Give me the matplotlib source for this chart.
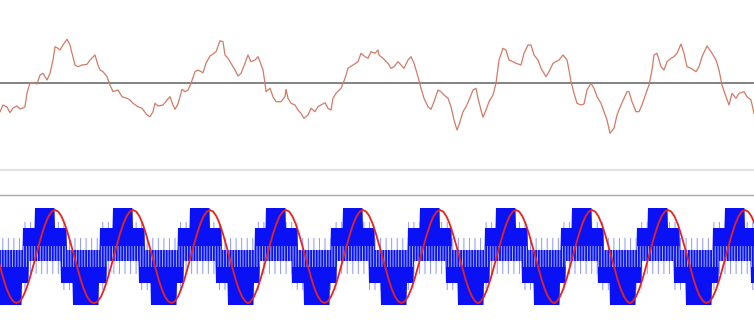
import numpy as np
import matplotlib
matplotlib.use('Agg')
import matplotlib.pyplot as plt

# upper trace (x in px, y in px from top)
top_x = [0, 3, 7, 10, 13, 17, 20, 23, 25, 27, 30, 33, 37, 40, 43, 47, 50, 53, 55, 58,
	60, 63, 67, 70, 72, 75, 78, 82, 87, 90, 95, 98, 100, 103, 107, 110, 113, 118, 122, 127,
	130, 133, 138, 142, 147, 150, 153, 155, 158, 163, 167, 170, 173, 175, 178, 182, 185, 188,
	191, 195, 198, 203, 206, 210, 213, 216, 220, 223, 225, 228, 231, 235, 238, 241, 245, 248,
	251, 255, 258, 260, 263, 265, 266, 270, 273, 276, 281, 285, 286, 288, 291, 295, 298, 301,
	304, 308, 311, 315, 318, 321, 325, 328, 331, 333, 336, 341, 345, 348, 353, 358, 361, 365,
	368, 371, 375, 378, 379, 383, 388, 391, 394, 398, 401, 404, 408, 411, 414, 418, 421, 424,
	428, 431, 434, 438, 441, 444, 448, 451, 454, 457, 459, 463, 466, 469, 473, 476, 478, 481,
	483, 486, 489, 493, 496, 499, 503, 506, 509, 513, 516, 521, 524, 528, 531, 534, 538, 541,
	546, 549, 553, 556, 559, 563, 567, 569, 571, 574, 577, 581, 584, 587, 591, 594, 597, 601,
	604, 607, 610, 614, 617, 621, 624, 627, 629, 632, 636, 639, 642, 646, 649, 652, 654, 657,
	661, 664, 667, 671, 674, 677, 681, 684, 687, 691, 696, 699, 702, 707, 711, 716, 719, 722,
	726, 729, 732, 736, 739, 744, 747, 751, 754]
top_y = [111.7, 105, 107, 112.7, 108, 106, 109, 108, 106.7, 93, 82.7, 82.7, 84, 75, 73.3, 80, 73.3, 60, 46.7, 48.3,
	50, 45, 39.3, 45, 53.3, 65, 66.7, 65, 64.3, 60, 55, 65, 70, 71.7, 76.7, 85, 91.7, 90, 96.7, 98.3,
	100, 103.3, 106.7, 108.3, 115, 116.7, 111.7, 103.3, 106, 105, 100, 96.7, 105, 109.3, 104, 89.3, 91.7, 90,
	83.3, 71.7, 70, 72.7, 63.3, 56, 54, 51.7, 40.7, 41.7, 55, 58.3, 63.3, 70, 76, 73.3, 63.3, 55,
	61.7, 60, 56.7, 61.7, 70, 83.3, 91.7, 88.3, 96.7, 101.7, 101.7, 96.7, 89.3, 98.3, 103.3, 105, 110, 113.3,
	118.3, 115, 108.3, 111.7, 106.7, 105, 102.7, 108.3, 110, 98.3, 93.3, 88.3, 78.3, 68.3, 65, 61.7, 53.3, 56.7,
	58.3, 51.7, 53.3, 50, 55, 58.3, 63.3, 68.3, 66.7, 61.7, 65, 68.3, 60, 56.7, 63.3, 76.7, 88.3, 98.3,
	106.7, 109.3, 101.7, 90, 91.7, 95, 98.3, 106.7, 120, 130, 125, 111.7, 106.7, 100, 90, 88.3, 98.3, 110,
	117.3, 110, 101.7, 95, 83.3, 60, 48.3, 50, 60, 61.7, 63.3, 65, 53.3, 45, 45, 55, 60, 68.3,
	76.7, 71.7, 63.3, 61.7, 60, 55, 60, 70, 81.7, 93.3, 103.3, 105, 104, 90, 83.3, 88.3, 96.7, 103.3,
	111.7, 120, 133.3, 128.3, 115, 105, 98.3, 91.7, 91.7, 101.7, 111.7, 111.7, 105, 93.3, 85, 70, 55, 53.3,
	66.7, 70, 61.7, 58.3, 56.7, 53.3, 44, 53.3, 66.7, 68.3, 71.7, 66.7, 56.7, 46, 51.7, 60, 70, 85,
	96.7, 105, 93.3, 98.3, 93.3, 91.7, 96.7, 100, 113.3]
top_ref = 82.7

# lower panel: red reference peaks (px) and one period of shapes around each peak
peaks = [-22, 55, 133, 210, 286, 363, 440, 516, 592, 668, 745]
red_off = [-38.5, -35.3, -32.1, -28.9, -25.7, -22.5, -19.3, -16, -12.8, -9.6, -6.4, -3.2, 0,
	3.2, 6.4, 9.6, 12.8, 16, 19.3, 22.5, 25.7, 28.9, 32.1, 35.3, 38.5]
red_y = [303, 301.4, 296.8, 289.4, 279.8, 268.5, 256.5, 244.5, 233.3, 223.6, 216.2, 211.6, 210,
	211.6, 216.2, 223.6, 233.3, 244.5, 256.5, 268.5, 279.8, 289.4, 296.8, 301.4, 303]
# staircase edges of the solid blue band: segment starts relative to the peak, and level
top_off = [-20, 0, 12, 45]
top_lvl = [208, 228, 250, 228]
bot_off = [-26, 6, 18, 44]
bot_lvl = [261, 283, 305, 283]
# how far the thin switching lines reach past the solid band
top_fringe = [208, 222, 238, 222]
bot_fringe = [274, 290, 305, 290]

W, H = 754, 326


def steps(offsets, levels):
	edges, lv = [], []
	for p in peaks:
		for o, l in zip(offsets, levels):
			edges.append(p + o)
			lv.append(l)
	order = np.argsort(edges)
	return np.array(edges)[order], np.array(lv)[order]


def level_at(offsets, levels, xs):
	edges, lv = steps(offsets, levels)
	idx = np.searchsorted(edges, xs, side='right') - 1
	return lv[np.clip(idx, 0, len(lv) - 1)]


fig = plt.figure(figsize=(W / 100, H / 100), dpi=100)
ax = fig.add_axes([0, 0, 1, 1])
ax.set_xlim(0, W)
ax.set_ylim(H, 0)
ax.axis('off')

# upper panel
ax.axhline(top_ref, color='#7a7a7a', lw=1.3, zorder=1)
ax.plot(top_x, top_y, color='#d27a66', lw=0.9, zorder=2)

# separators
ax.axhline(169.5, color='#e4e4e4', lw=1.6)
ax.axhline(194.5, color='#a8a8a8', lw=1.0)

# blue multilevel band
xs = np.arange(0, W + 1, 0.5)
upper = level_at(top_off, top_lvl, xs)
lower = level_at(bot_off, bot_lvl, xs)
f_up = level_at(top_off, top_fringe, xs)
f_lo = level_at(bot_off, bot_fringe, xs)

plt.rcParams['hatch.linewidth'] = 0.7
# sparse switching lines beyond the solid band
ax.fill_between(xs, f_up, upper, facecolor='none', edgecolor='#8b95ff', hatch='|||', lw=0, zorder=3)
ax.fill_between(xs, lower, f_lo, facecolor='none', edgecolor='#8b95ff', hatch='|||', lw=0, zorder=3)
ax.fill_between(xs, upper, lower, color='#0a12f5', lw=0, zorder=3)

# light PWM streaks around the zero level
s_top = np.maximum(upper, 246)
s_bot = np.minimum(lower, 267)
ax.fill_between(xs, s_top, s_bot, facecolor='none', edgecolor='#a3adff', hatch='||||||', lw=0, zorder=4)

# red reference
rx, ry = [], []
for p in peaks:
	rx += [p + o for o in red_off]
	ry += red_y
order = np.argsort(rx)
ax.plot(np.array(rx)[order], np.array(ry)[order], color='#e8231c', lw=1.3, zorder=5)

fig.savefig('out.png', dpi=100)
